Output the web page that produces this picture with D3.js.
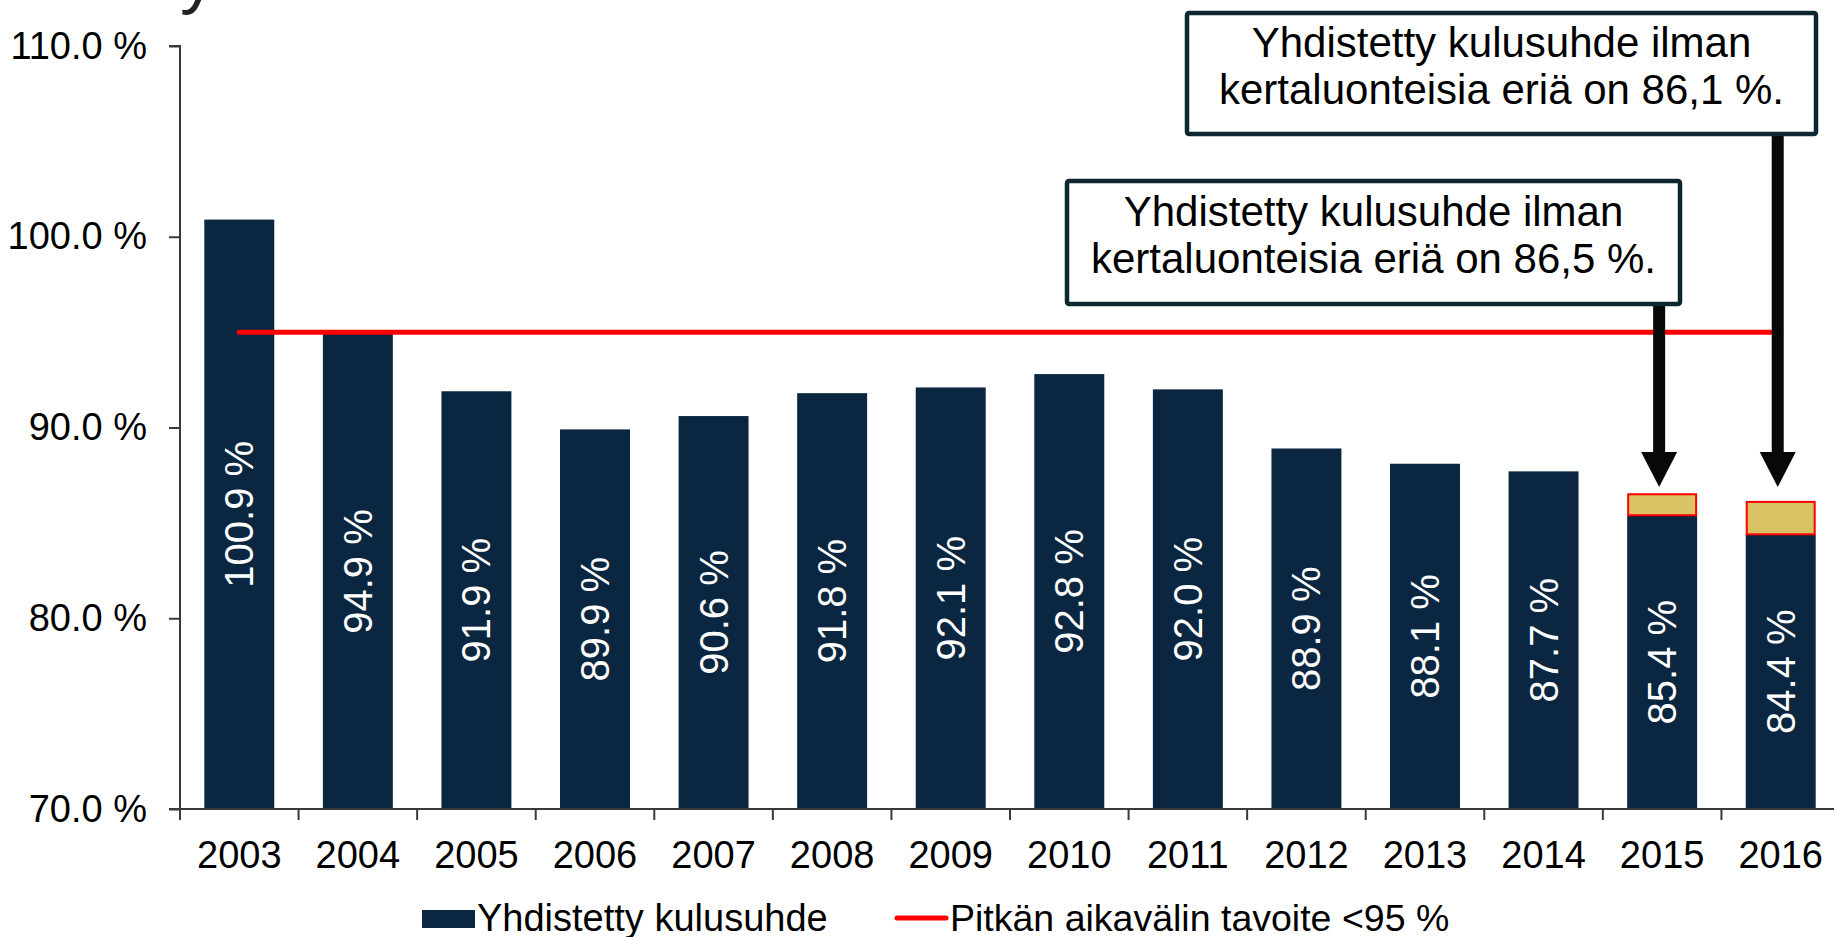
<!DOCTYPE html>
<html>
<head>
<meta charset="utf-8">
<script src="https://cdn.jsdelivr.net/npm/d3@7"></script>
<style>
  html, body { margin: 0; padding: 0; background: #fff; overflow: hidden; }
  svg { display: block; font-family: "Liberation Sans", Arial, sans-serif; }
</style>
</head>
<body>
<svg id="chart" width="1834" height="937"></svg>
<script>
// ---- data ----
const years = ["2003","2004","2005","2006","2007","2008","2009","2010","2011","2012","2013","2014","2015","2016"];
const ratios = [100.9, 94.9, 91.9, 89.9, 90.6, 91.8, 92.1, 92.8, 92.0, 88.9, 88.1, 87.7, 85.4, 84.4];
const adjusted = [null, null, null, null, null, null, null, null, null, null, null, null, 86.5, 86.1];
const target = 95;
const yTicks = [70, 80, 90, 100, 110];
const seriesNames = ["Yhdistetty kulusuhde", "Pitkän aikavälin tavoite <95 %"];
const notes = [
  { year: "2015", lines: ["Yhdistetty kulusuhde ilman", "kertaluonteisia eriä on 86,5 %."] },
  { year: "2016", lines: ["Yhdistetty kulusuhde ilman", "kertaluonteisia eriä on 86,1 %."] }
];

// ---- layout ----
const svg = d3.select("#chart");
const navy = "#0a2640", gold = "#d9c364", red = "#ff0000", axisCol = "#3a3a3a";
const pLeft = 180, pRight = 1840, pTop = 46, pBottom = 809;

const x = d3.scaleBand().domain(years).range([pLeft, pRight]).paddingInner(0.41).paddingOuter(0.205);
const y = d3.scaleLinear().domain([70, 110]).range([pBottom, pTop]);
const bw = x.bandwidth(), step = x.step();
const cx = d => x(d) + bw / 2;

// partial title glyph at top (cut off in reference)
svg.append("text").attr("x", 180).attr("y", 0).attr("font-size", 72).attr("fill", "#222").text("y");

// bars
svg.append("g").selectAll("rect").data(years).join("rect")
  .attr("x", d => x(d)).attr("width", bw)
  .attr("y", (d, i) => y(ratios[i])).attr("height", (d, i) => y(70) - y(ratios[i]))
  .attr("fill", navy);

// adjusted (one-off) segments
svg.append("g").selectAll("rect").data(years.filter((d, i) => adjusted[i] != null)).join("rect")
  .attr("x", d => x(d) + 1).attr("width", bw - 2)
  .attr("y", d => y(adjusted[years.indexOf(d)]))
  .attr("height", d => y(ratios[years.indexOf(d)]) - y(adjusted[years.indexOf(d)]))
  .attr("fill", gold).attr("stroke", red).attr("stroke-width", 2);

// bar labels
svg.append("g").selectAll("text").data(years).join("text")
  .attr("transform", (d, i) => `translate(${cx(d)},${(y(ratios[i]) + y(70)) / 2}) rotate(-90)`)
  .attr("text-anchor", "middle").attr("dominant-baseline", "central")
  .attr("font-size", 40).attr("fill", "#fff")
  .text((d, i) => ratios[i].toFixed(1) + " %");

// target line
svg.append("line")
  .attr("x1", cx(years[0])).attr("x2", cx(years[years.length - 1]))
  .attr("y1", y(target)).attr("y2", y(target))
  .attr("stroke", red).attr("stroke-width", 5).attr("stroke-linecap", "round");

// y axis
const yAxis = svg.append("g").attr("transform", `translate(${pLeft},0)`)
  .call(d3.axisLeft(y).tickValues(yTicks).tickSize(11).tickPadding(22).tickFormat(v => v.toFixed(1) + " %"));
yAxis.select(".domain").attr("stroke", axisCol).attr("stroke-width", 2).attr("d", `M-11,${pTop}H0V${pBottom}H-11`);
yAxis.selectAll(".tick line").attr("stroke", axisCol).attr("stroke-width", 2);
yAxis.selectAll(".tick text").attr("font-size", 38).attr("fill", "#000").attr("font-family", "Liberation Sans, Arial, sans-serif");

// x axis
const xg = svg.append("g");
xg.append("line").attr("x1", pLeft).attr("x2", pRight).attr("y1", pBottom).attr("y2", pBottom)
  .attr("stroke", axisCol).attr("stroke-width", 2);
const boundaries = years.map(d => cx(d) - step / 2).concat([cx(years[years.length - 1]) + step / 2]);
xg.selectAll("line.tk").data(boundaries).join("line").attr("class", "tk")
  .attr("x1", d => d).attr("x2", d => d).attr("y1", pBottom).attr("y2", pBottom + 11)
  .attr("stroke", axisCol).attr("stroke-width", 2);
xg.selectAll("text").data(years).join("text")
  .attr("x", d => cx(d)).attr("y", 868).attr("text-anchor", "middle")
  .attr("font-size", 38).attr("fill", "#000").text(d => d);

// annotation arrows + boxes
const boxes = [
  { x0: 1065, y0: 179, x1: 1682, y1: 306 },
  { x0: 1185, y0: 11, x1: 1818, y1: 136 }
];
notes.forEach((n, k) => {
  const b = boxes[k];
  const ax = cx(n.year) - 3;
  const tipY = 487;
  svg.append("rect").attr("x", ax - 6).attr("width", 12).attr("y", b.y1).attr("height", tipY - 34 - b.y1).attr("fill", "#080808");
  svg.append("path").attr("d", `M${ax - 18},${tipY - 35}L${ax + 18},${tipY - 35}L${ax},${tipY}Z`).attr("fill", "#080808");
  svg.append("rect").attr("x", b.x0 + 2).attr("y", b.y0 + 2).attr("width", b.x1 - b.x0 - 4).attr("height", b.y1 - b.y0 - 4)
    .attr("rx", 2).attr("fill", "#fff").attr("stroke", "#0c2730").attr("stroke-width", 4.5);
  const mx = (b.x0 + b.x1) / 2, my = (b.y0 + b.y1) / 2;
  n.lines.forEach((t, j) => {
    svg.append("text").attr("x", mx).attr("y", my - 8 + (j - 0.5) * 47 + 15).attr("text-anchor", "middle")
      .attr("font-size", 42).attr("fill", "#000").text(t);
  });
});

// legend
const lg = svg.append("g");
lg.append("rect").attr("x", 422).attr("y", 910).attr("width", 53).attr("height", 18).attr("fill", navy);
lg.append("text").attr("x", 477).attr("y", 931).attr("font-size", 38).attr("fill", "#000").text(seriesNames[0]);
lg.append("line").attr("x1", 897).attr("x2", 946).attr("y1", 918).attr("y2", 918)
  .attr("stroke", red).attr("stroke-width", 5).attr("stroke-linecap", "round");
lg.append("text").attr("x", 950).attr("y", 931).attr("font-size", 37.5).attr("fill", "#000").text(seriesNames[1]);
</script>
</body>
</html>
